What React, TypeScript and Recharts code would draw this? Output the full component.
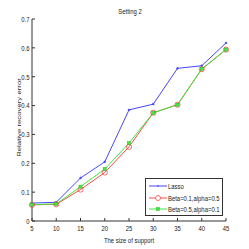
import { CartesianGrid, Legend, Line, LineChart, XAxis, YAxis } from 'recharts';

const supportSizes = [5, 10, 15, 20, 25, 30, 35, 40, 45];
const lasso = [0.062, 0.065, 0.149, 0.205, 0.385, 0.405, 0.529, 0.538, 0.617];
const beta01 = [0.056, 0.058, 0.109, 0.168, 0.257, 0.375, 0.403, 0.526, 0.594];
const beta05 = [0.057, 0.059, 0.119, 0.180, 0.270, 0.375, 0.403, 0.527, 0.594];
const xTicks = [5, 10, 15, 20, 25, 30, 35, 40, 45];
const yTicks = [0, 0.1, 0.2, 0.3, 0.4, 0.5, 0.6, 0.7];

const data = supportSizes.map((size, i) => ({
    size,
    lasso: lasso[i],
    beta01: beta01[i],
    beta05: beta05[i],
}));

const FONT = 'Liberation Sans, Arial, sans-serif';
const FS = 7.8;
const SX = 0.76; // the picture is squeezed horizontally
const BLUE = '#4646ff';
const RED = '#ff4a4a';
const GREEN = '#3ee83e';

// horizontal text, squeezed like the reference
const SText = (p: { x: number; y: number; anchor?: string; children: any }) => (
    <text
        transform={`translate(${p.x},${p.y}) scale(${SX},1)`}
        textAnchor={p.anchor ?? 'start'}
        fontSize={FS}
        fontFamily={FONT}
        fill="#222">
        {p.children}
    </text>
);

const XTick = (props: any) => {
    const { x, y, payload } = props;
    return (
        <SText x={x} y={y + 6} anchor="middle">
            {payload.value}
        </SText>
    );
};

const YTick = (props: any) => {
    const { x, y, payload } = props;
    return (
        <SText x={x - 1.5} y={y + 2.8} anchor="end">
            {String(Math.round(payload.value * 10) / 10)}
        </SText>
    );
};

const GreenDot = (props: any) => {
    const { cx, cy } = props;
    if (cx == null || cy == null) return null;
    return <rect x={cx - 1.6} y={cy - 1.6} width={3.2} height={3.2} fill={GREEN} stroke="#22aa22" strokeWidth={0.4} />;
};

const LegendBox = () => (
    <svg width={78} height={38} style={{ display: 'block' }}>
        <rect x={0.5} y={0.5} width={77} height={37} fill="#fff" stroke="#333" strokeWidth={1} />
        <line x1={4} x2={22} y1={8} y2={8} stroke={BLUE} strokeWidth={1} />
        <circle cx={13} cy={8} r={0.8} fill={BLUE} />
        <SText x={23} y={10.5}>Lasso</SText>
        <line x1={4} x2={22} y1={20} y2={20} stroke={RED} strokeWidth={1} />
        <circle cx={13} cy={20} r={2.5} fill="#fff" stroke={RED} strokeWidth={0.8} />
        <SText x={23} y={22.5}>Beta=0.1,alpha=0.5</SText>
        <line x1={4} x2={22} y1={31} y2={31} stroke={GREEN} strokeWidth={1} />
        <rect x={11.4} y={29.4} width={3.2} height={3.2} fill={GREEN} stroke="#22aa22" strokeWidth={0.4} />
        <SText x={23} y={33.5}>Beta=0.5,alpha=0.1</SText>
    </svg>
);

export default function App() {
    return (
        <div style={{ position: 'absolute', left: 0, top: 0, width: 249, height: 249, background: '#fff' }}>
            <LineChart
                width={249}
                height={249}
                data={data}
                margin={{ top: 19, right: 23, left: 0, bottom: 0 }}>
                <CartesianGrid stroke="none" />
                <XAxis
                    xAxisId="bottom"
                    dataKey="size"
                    type="number"
                    domain={[5, 45]}
                    ticks={xTicks}
                    height={28}
                    tickSize={-3}
                    tickMargin={7}
                    tick={<XTick />}
                    stroke="#333"
                    interval={0}
                />
                <XAxis
                    xAxisId="top"
                    orientation="top"
                    dataKey="size"
                    type="number"
                    domain={[5, 45]}
                    ticks={xTicks}
                    height={0}
                    tickSize={-3}
                    tickFormatter={() => ''}
                    stroke="#333"
                    interval={0}
                />
                <YAxis
                    yAxisId="left"
                    type="number"
                    domain={[0, 0.7]}
                    ticks={yTicks}
                    width={32}
                    tickSize={-3}
                    tickMargin={4}
                    tick={<YTick />}
                    stroke="#333"
                    interval={0}
                />
                <YAxis
                    yAxisId="right"
                    orientation="right"
                    type="number"
                    domain={[0, 0.7]}
                    ticks={yTicks}
                    width={0}
                    tickSize={-3}
                    tickFormatter={() => ''}
                    stroke="#333"
                    interval={0}
                />
                <Legend
                    layout="vertical"
                    align="center"
                    verticalAlign="middle"
                    wrapperStyle={{ left: 145, top: 178, width: 78, height: 38 }}
                    content={() => <LegendBox />}
                />
                <Line
                    xAxisId="bottom"
                    yAxisId="left"
                    dataKey="lasso"
                    stroke={BLUE}
                    strokeWidth={1}
                    dot={{ r: 0.8, fill: BLUE, stroke: BLUE }}
                    isAnimationActive={false}
                />
                <Line
                    xAxisId="bottom"
                    yAxisId="left"
                    dataKey="beta01"
                    stroke={RED}
                    strokeWidth={1}
                    dot={{ r: 2.6, fill: 'none', stroke: RED, strokeWidth: 0.8 }}
                    isAnimationActive={false}
                />
                <Line
                    xAxisId="bottom"
                    yAxisId="left"
                    dataKey="beta05"
                    stroke={GREEN}
                    strokeWidth={1}
                    dot={<GreenDot />}
                    isAnimationActive={false}
                />
            </LineChart>
            <svg width={249} height={249} style={{ position: 'absolute', left: 0, top: 0, pointerEvents: 'none' }}>
                <SText x={130} y={13.5} anchor="middle">Setting 2</SText>
                <SText x={129} y={243} anchor="middle">The size of support</SText>
                <text
                    transform={`translate(20.5,117.5) scale(${SX},1) rotate(-90)`}
                    textAnchor="middle"
                    fontSize={FS}
                    fontFamily={FONT}
                    fill="#222">
                    Relative recovery error
                </text>
            </svg>
        </div>
    );
}
